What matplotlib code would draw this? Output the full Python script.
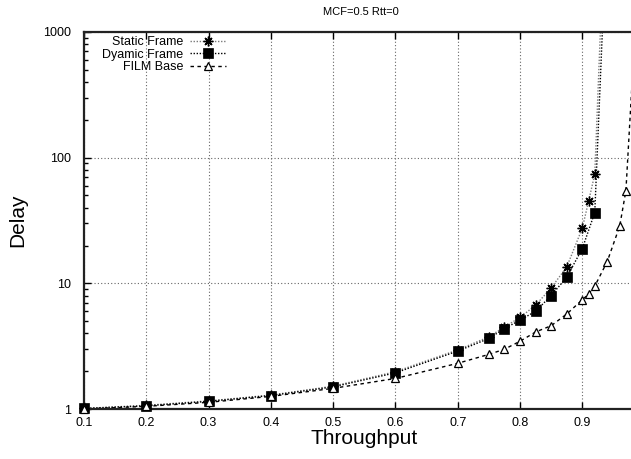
import matplotlib
matplotlib.use("Agg")
import matplotlib.pyplot as plt
from matplotlib.ticker import LogLocator, FixedLocator, NullFormatter, FixedFormatter

plt.rcParams['font.family'] = ['Liberation Sans', 'DejaVu Sans']

# Throughput values for each scheme
x_static = [0.1, 0.2, 0.3, 0.4, 0.5, 0.6, 0.7, 0.75, 0.775, 0.8, 0.825, 0.85,
            0.875, 0.9, 0.91, 0.92, 0.94]
x_dynamic = [0.1, 0.2, 0.3, 0.4, 0.5, 0.6, 0.7, 0.75, 0.775, 0.8, 0.825, 0.85,
             0.875, 0.9, 0.92, 0.94]
x_film = [0.1, 0.2, 0.3, 0.4, 0.5, 0.6, 0.7, 0.75, 0.775, 0.8, 0.825, 0.85,
          0.875, 0.9, 0.91, 0.92, 0.94, 0.96, 0.97, 0.99]

# Mean delay for each scheme
delay_static = [1.01, 1.07, 1.16, 1.29, 1.52, 1.98, 2.95, 3.75, 4.5, 5.35, 6.7,
                9.2, 13.5, 27.5, 44.8, 74.0, 25000.0]
delay_dynamic = [1.01, 1.06, 1.15, 1.28, 1.50, 1.94, 2.89, 3.64, 4.37, 5.09, 6.0,
                 7.98, 11.2, 18.9, 36.6, 8500.0]
delay_film = [1.0, 1.05, 1.13, 1.26, 1.46, 1.75, 2.31, 2.72, 2.99, 3.46, 4.1,
              4.6, 5.7, 7.4, 8.2, 9.5, 14.9, 28.5, 54.7, 3000.0]

labels = ["Static Frame", "Dyamic Frame", "FILM Base"]
x_ticks = [0.1, 0.2, 0.3, 0.4, 0.5, 0.6, 0.7, 0.8, 0.9]
x_tick_labels = ["0.1", "0.2", "0.3", "0.4", "0.5", "0.6", "0.7", "0.8", "0.9"]
y_ticks = [1, 10, 100, 1000]
y_tick_labels = ["1", "10", "100", "1000"]
Y_MAX = 1000

W, H = 631, 459
fig = plt.figure(figsize=(W / 100, H / 100), dpi=100)
left, right, top, bottom = 84, 644.6, 32, 409
ax = fig.add_axes([left / W, 1 - bottom / H, (right - left) / W, (bottom - top) / H])

asterisk = (8, 2, 0)
series = [
    (x_static, delay_static, dict(color="#7a7a7a", linestyle=(0, (1, 1.2))),
     dict(marker=asterisk, markersize=7, markeredgewidth=1.0,
          markeredgecolor="black", markerfacecolor="black")),
    (x_dynamic, delay_dynamic, dict(color="black", linestyle=(0, (1, 1.2))),
     dict(marker="s", markersize=7, markeredgewidth=0.5,
          markeredgecolor="black", markerfacecolor="black")),
    (x_film, delay_film, dict(color="black", linestyle=(0, (2.5, 2.5))),
     dict(marker="^", markersize=5.5, markeredgewidth=0.9,
          markeredgecolor="black", markerfacecolor="white")),
]

for (xs, ys, line_kw, mark_kw), lab in zip(series, labels):
    # connecting line, clipped to the plot area
    ax.plot(xs, ys, lw=1.0, **line_kw)
    # point symbols inside the range, drawn on top of the frame
    vis = [(x, y) for x, y in zip(xs, ys) if y <= Y_MAX]
    ax.plot([p[0] for p in vis], [p[1] for p in vis], linestyle="none",
            clip_on=False, zorder=5, **mark_kw)
    # legend entry combining both
    ax.plot([], [], lw=1.0, label=lab, **line_kw, **mark_kw)

ax.set_yscale("log")
ax.set_xlim(0.1, 1.0)
ax.set_ylim(1, Y_MAX)

ax.xaxis.set_major_locator(FixedLocator(x_ticks))
ax.xaxis.set_major_formatter(FixedFormatter(x_tick_labels))
ax.yaxis.set_major_locator(FixedLocator(y_ticks))
ax.yaxis.set_major_formatter(FixedFormatter(y_tick_labels))
ax.yaxis.set_minor_locator(LogLocator(base=10, subs=range(2, 10)))
ax.yaxis.set_minor_formatter(NullFormatter())

ax.tick_params(axis="both", which="both", direction="in", labelsize=9,
               colors="black", width=1.0)
ax.tick_params(axis="x", which="major", top=True, length=5, pad=6)
ax.tick_params(axis="y", which="major", length=5, pad=9)
ax.tick_params(axis="y", which="minor", length=3)

ax.grid(True, which="major", color="#666666", linestyle=(0, (1, 2)), lw=0.8)

for s in ax.spines.values():
    s.set_linewidth(1.6)
    s.set_color("#222222")

ax.set_xlabel("Throughput", fontsize=15, labelpad=0)
ax.set_ylabel("Delay", fontsize=15, labelpad=12)
fig.text(361 / W, 1 - 12 / H, "MCF=0.5 Rtt=0", fontsize=8, ha="center", va="center")

leg = ax.legend(loc="upper right", bbox_to_anchor=(226 / W, 1 - 36 / H),
                bbox_transform=fig.transFigure, frameon=False, markerfirst=False,
                fontsize=9, handlelength=2.9, handletextpad=0.5, labelspacing=0.05,
                borderpad=0, borderaxespad=0)

fig.savefig("out.png", dpi=100)
